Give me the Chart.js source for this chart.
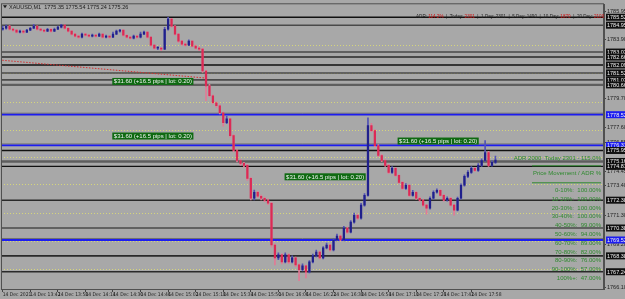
<!DOCTYPE html>
<html><head><meta charset="utf-8">
<script src="https://cdn.jsdelivr.net/npm/chart.js@4.4.1/dist/chart.umd.min.js"></script>
<style>html,body{margin:0;padding:0;background:#a8a8a8;}canvas{display:block}</style>
</head><body>
<canvas id="c" width="625" height="299"></canvas>
<script>
// ---------- DATA ----------
const timeTickLabels = ["14 Dec 2021","14 Dec 13:42","14 Dec 13:58","14 Dec 14:14","14 Dec 14:30","14 Dec 14:46","14 Dec 15:02","14 Dec 15:18","14 Dec 15:34","14 Dec 15:50","14 Dec 16:06","14 Dec 16:22","14 Dec 16:38","14 Dec 16:54","14 Dec 17:10","14 Dec 17:26","14 Dec 17:42","14 Dec 17:58"];
const opens = [1784.66,1784.73,1784.88,1784.66,1784.59,1784.45,1784.52,1784.45,1784.59,1784.73,1784.88,1784.66,1784.59,1784.52,1784.66,1784.52,1784.66,1784.81,1784.95,1784.73,1784.52,1784.31,1784.16,1784.09,1784.31,1784.23,1784.16,1784.23,1784.16,1784.31,1784.09,1784.16,1784.09,1784.31,1784.52,1784.59,1784.23,1784.09,1784.02,1784.16,1784.09,1784.31,1784.45,1784.09,1783.52,1783.30,1783.30,1783.23,1784.66,1785.38,1784.88,1784.31,1783.80,1783.59,1783.52,1783.80,1783.45,1783.30,1783.23,1781.66,1780.59,1779.88,1779.38,1779.16,1778.66,1777.95,1778.23,1777.02,1775.95,1775.23,1775.02,1774.88,1773.95,1772.52,1772.95,1772.66,1772.52,1772.38,1772.16,1769.16,1768.23,1768.45,1767.95,1768.45,1767.95,1768.23,1767.73,1767.38,1767.66,1767.23,1767.95,1768.38,1768.66,1768.23,1768.95,1769.16,1768.80,1769.52,1769.80,1769.52,1770.38,1770.09,1770.80,1771.30,1771.09,1772.02,1772.73,1777.73,1777.38,1776.30,1775.59,1775.23,1774.88,1774.38,1774.66,1774.16,1773.66,1773.23,1773.45,1772.73,1772.95,1772.52,1772.38,1772.02,1771.80,1772.52,1772.95,1773.09,1772.73,1772.38,1772.52,1772.02,1771.66,1772.52,1773.45,1774.09,1774.38,1774.66,1774.52,1774.88,1775.23,1775.80,1774.88,1775.09];
const closes = [1784.73,1784.88,1784.66,1784.59,1784.45,1784.52,1784.45,1784.59,1784.73,1784.88,1784.66,1784.59,1784.52,1784.66,1784.52,1784.66,1784.81,1784.95,1784.73,1784.52,1784.31,1784.16,1784.09,1784.31,1784.23,1784.16,1784.23,1784.16,1784.31,1784.09,1784.16,1784.09,1784.31,1784.52,1784.59,1784.23,1784.09,1784.02,1784.16,1784.09,1784.31,1784.45,1784.09,1783.52,1783.30,1783.30,1783.23,1784.66,1785.38,1784.88,1784.31,1783.80,1783.59,1783.52,1783.80,1783.45,1783.30,1783.23,1781.66,1780.59,1779.88,1779.38,1779.16,1778.66,1777.95,1778.23,1777.02,1775.95,1775.23,1775.02,1774.88,1773.95,1772.52,1772.95,1772.66,1772.52,1772.38,1772.16,1769.16,1768.23,1768.45,1767.95,1768.45,1767.95,1768.23,1767.73,1767.38,1767.66,1767.23,1767.95,1768.38,1768.66,1768.23,1768.95,1769.16,1768.80,1769.52,1769.80,1769.52,1770.38,1770.09,1770.80,1771.30,1771.09,1772.02,1772.73,1777.73,1777.38,1776.30,1775.59,1775.23,1774.88,1774.38,1774.66,1774.16,1773.66,1773.23,1773.45,1772.73,1772.95,1772.52,1772.38,1772.02,1771.80,1772.52,1772.95,1773.09,1772.73,1772.38,1772.52,1772.02,1771.66,1772.52,1773.45,1774.09,1774.38,1774.66,1774.52,1774.88,1775.23,1775.80,1774.88,1775.09,1775.26];
const highs = [1784.88,1784.95,1784.92,1784.73,1784.64,1784.60,1784.58,1784.66,1784.80,1785.02,1784.90,1784.72,1784.64,1784.73,1784.70,1784.74,1784.88,1785.02,1784.98,1784.78,1784.56,1784.36,1784.22,1784.38,1784.36,1784.30,1784.31,1784.28,1784.38,1784.34,1784.24,1784.20,1784.45,1784.60,1784.66,1784.62,1784.28,1784.14,1784.24,1784.20,1784.45,1784.52,1784.48,1784.12,1783.56,1783.40,1783.36,1784.80,1785.52,1785.45,1784.92,1784.35,1783.86,1783.66,1783.90,1783.84,1783.52,1783.40,1783.28,1781.70,1780.70,1779.95,1779.45,1779.22,1778.70,1778.40,1778.28,1777.10,1776.02,1775.30,1775.10,1774.95,1774.00,1773.10,1773.02,1772.75,1772.60,1772.45,1772.22,1769.25,1768.60,1768.52,1768.60,1768.52,1768.38,1768.30,1767.80,1767.80,1767.72,1768.05,1768.50,1768.80,1768.72,1769.05,1769.30,1769.22,1769.62,1769.95,1769.88,1770.50,1770.45,1770.92,1771.45,1771.38,1772.15,1772.85,1778.30,1777.90,1777.45,1776.38,1775.66,1775.30,1774.95,1774.80,1774.72,1774.22,1773.72,1773.58,1773.52,1773.08,1773.00,1772.60,1772.44,1772.08,1772.62,1773.05,1773.20,1773.15,1772.80,1772.62,1772.58,1772.08,1772.60,1773.55,1774.20,1774.50,1774.80,1774.72,1775.00,1775.35,1776.66,1775.88,1775.20,1775.54];
const lows = [1784.59,1784.66,1784.59,1784.50,1784.38,1784.40,1784.36,1784.42,1784.55,1784.70,1784.60,1784.52,1784.45,1784.48,1784.45,1784.48,1784.62,1784.76,1784.66,1784.45,1784.24,1784.09,1784.00,1784.04,1784.16,1784.08,1784.10,1784.09,1784.12,1784.02,1784.03,1784.00,1784.05,1784.26,1784.45,1784.16,1784.02,1783.95,1783.97,1784.02,1784.04,1784.26,1784.02,1783.45,1783.23,1783.20,1783.12,1783.20,1784.60,1784.80,1784.24,1783.72,1783.50,1783.44,1783.48,1783.38,1783.22,1783.12,1781.55,1779.52,1779.80,1779.30,1779.05,1778.58,1777.70,1777.88,1776.90,1775.85,1775.12,1774.90,1774.75,1773.80,1772.40,1772.40,1772.58,1772.40,1772.28,1772.05,1769.00,1767.73,1768.10,1767.80,1767.88,1767.82,1767.88,1767.60,1766.59,1767.30,1766.80,1767.16,1767.88,1768.30,1768.15,1768.16,1768.88,1768.72,1768.74,1769.45,1769.45,1769.46,1770.00,1770.02,1770.72,1771.00,1771.02,1771.95,1772.66,1777.30,1776.20,1775.50,1775.15,1774.80,1774.28,1774.30,1774.08,1773.58,1773.15,1773.16,1772.65,1772.66,1772.44,1772.30,1771.94,1771.38,1771.74,1772.45,1772.88,1772.66,1772.30,1772.30,1771.95,1771.30,1771.60,1772.45,1773.38,1774.00,1774.30,1774.44,1774.45,1774.80,1775.16,1774.80,1774.82,1775.02];
const priceTicks = [1785.95,1783.90,1779.70,1777.60,1776.55,1774.45,1773.40,1771.30,1769.20,1766.10];
const gridPrices = [1785.52,1783.52,1781.52,1779.45,1777.45,1775.45,1773.52,1771.45,1769.45,1767.45];
const levelPrices = [1785.52,1784.95,1783.02,1782.66,1782.09,1781.52,1781.02,1780.66,1778.52,1776.31,1775.95,1775.16,1774.81,1772.38,1770.38,1769.52,1768.38,1767.24];
const levelKinds  = ['k','g','g','d','k','g','g','m','b','b','k','m','k','d','g','b','d','d'];
const trendLine = {fromIndex:-1, fromPrice:1782.45, toIndex:58.5, toPrice:1781.16};
const profitText = "$31.60 (+16.5 pips | lot: 0.20)";
const profitBoxes = [{index:31.8, price:1781.16},{index:31.8, price:1777.24},{index:81.8, price:1774.31},{index:114.6, price:1776.88}];
const titleText = "XAUUSD,M1  1775.35 1775.54 1775.24 1775.26";
const adrTop = [["ADR: ","#222"],["114.2%","#d01010"],["  |  Today: ","#222"],["2301","#d01010"],["  |  1 Day: 2301  |  5 Day: 1490  |  10 Day: ","#222"],["1870","#d01010"],["  |  20 Day: ","#222"],["2100","#d01010"]];
const adrHeader = "ADR 2000  Today 2301 - 115.0%";
const adrSub = "Price Movement / ADR %";
const adrRows = ["0-10%:  100.00%","10-20%:  100.00%","20-30%:  100.00%","30-40%:  100.00%","40-50%:  99.00%","50-60%:  94.00%","60-70%:  89.00%","70-80%:  82.00%","80-90%:  76.00%","90-100%:  57.00%","100%+:  47.00%"];
const totalSlots = 175;

// ---------- BUILD ----------
const slotLabels = Array.from({length: totalSlots}, (_, i) => (i % 8 === 0 && timeTickLabels[i/8]) ? timeTickLabels[i/8] : '');
const bodies = opens.map((o, i) => [o, closes[i]]);
const wicks = lows.map((l, i) => [l, highs[i]]);
const isBull = opens.map((o, i) => closes[i] >= o);
const BULL = '#20208c', BEAR = '#dc2a55', BULLW = '#5252b4', BEARW = '#e27a95';
const kindStyle = {k:['#111',1.3],g:['#4a4a4a',1.6],d:['#2a2a2a',1.6],m:['#5e5e5e',2.4],b:['#1c1cf0',1.8]};
const FONT = '"Liberation Sans", Arial, sans-serif';
const NARROW = '"Liberation Sans Narrow", "DejaVu Sans Condensed", "Liberation Sans", sans-serif';

const overlay = {
  id: 'overlay',
  beforeDatasetsDraw(chart) {
    const {ctx, chartArea: a, scales: {x, y}} = chart;
    ctx.save();
    ctx.beginPath(); ctx.rect(a.left, a.top, a.right - a.left, a.bottom - a.top); ctx.clip();
    ctx.lineWidth = 1; ctx.strokeStyle = '#d6d67a'; ctx.setLineDash([1, 2]);
    gridPrices.forEach(p => { const yy = Math.round(y.getPixelForValue(p)) + 0.5; ctx.beginPath(); ctx.moveTo(a.left, yy); ctx.lineTo(a.right, yy); ctx.stroke(); });
    ctx.setLineDash([]);
    levelPrices.forEach((p, i) => {
      const [col, w] = kindStyle[levelKinds[i]];
      const yy = y.getPixelForValue(p);
      if (levelKinds[i] === 'b') { ctx.strokeStyle = '#707070'; ctx.lineWidth = 1; ctx.beginPath(); ctx.moveTo(a.left, yy - 1.5); ctx.lineTo(a.right, yy - 1.5); ctx.stroke(); }
      ctx.strokeStyle = col; ctx.lineWidth = w;
      ctx.beginPath(); ctx.moveTo(a.left, yy); ctx.lineTo(a.right, yy); ctx.stroke();
    });
    ctx.strokeStyle = '#d23030'; ctx.lineWidth = 1; ctx.setLineDash([1.5, 1.5]);
    ctx.beginPath();
    ctx.moveTo(x.getPixelForValue(trendLine.fromIndex), y.getPixelForValue(trendLine.fromPrice));
    ctx.lineTo(x.getPixelForValue(trendLine.toIndex), y.getPixelForValue(trendLine.toPrice));
    ctx.stroke();
    ctx.setLineDash([]);
    ctx.restore();
  },
  afterDraw(chart) {
    const {ctx, chartArea: a, scales: {x, y}} = chart;
    ctx.save();
    ctx.strokeStyle = '#505050'; ctx.lineWidth = 1;
    ctx.strokeRect(a.left + 0.5, a.top - 0.5, a.right - a.left - 1, a.bottom - a.top + 1);
    ctx.font = '6px ' + FONT; ctx.textBaseline = 'middle'; ctx.textAlign = 'left';
    profitBoxes.forEach(b => {
      const px = x.getPixelForValue(b.index), py = y.getPixelForValue(b.price);
      const w = ctx.measureText(profitText).width + 3;
      ctx.fillStyle = '#0f6a12'; ctx.fillRect(px, py, w, 7);
      ctx.fillStyle = '#f4f4f4'; ctx.fillText(profitText, px + 1.5, py + 3.8);
    });
    ctx.font = '5.5px ' + FONT;
    levelPrices.forEach((p, i) => {
      const yy = y.getPixelForValue(p);
      ctx.fillStyle = levelKinds[i] === 'b' ? '#1c1cf0' : '#101010';
      ctx.fillRect(a.right + 2, yy - 3.5, 19, 7);
      ctx.fillStyle = '#f0f0f0'; ctx.textAlign = 'left';
      ctx.fillText(p.toFixed(2), a.right + 3, yy + 0.3);
    });
    ctx.fillStyle = '#1a1a1a'; ctx.font = '5.5px ' + FONT; ctx.textAlign = 'left';
    ctx.beginPath(); ctx.moveTo(a.left + 2, a.top + 1); ctx.lineTo(a.left + 6, a.top + 1); ctx.lineTo(a.left + 4, a.top + 4); ctx.closePath(); ctx.fill();
    ctx.fillText(titleText, a.left + 8, a.top + 3);
    ctx.font = '4.6px ' + FONT;
    let tx = a.left + 415; const ty = y.getPixelForValue(levelPrices[0]) - 0.3;
    adrTop.forEach(([t, c]) => { ctx.fillStyle = c; ctx.fillText(t, tx, ty); tx += ctx.measureText(t).width; });
    const green = '#2f8a2f';
    const rx = a.right - 3;
    ctx.fillStyle = green; ctx.textAlign = 'right'; ctx.font = '6px ' + FONT;
    ctx.fillText(adrHeader, rx, a.top + 154);
    ctx.fillText(adrSub, rx, a.top + 169);
    ctx.strokeStyle = green; ctx.lineWidth = 1;
    [161.5, 178.5].forEach(v => { ctx.beginPath(); ctx.moveTo(a.left + 531, a.top + v); ctx.lineTo(rx, a.top + v); ctx.stroke(); });
    adrRows.forEach((r, i) => ctx.fillText(r, rx, a.top + 186 + i * 8.8));
    ctx.restore();
  }
};

new Chart(document.getElementById('c'), {
  type: 'bar',
  data: {
    labels: slotLabels,
    datasets: [
      { data: bodies, grouped: false, barThickness: 1.6, minBarLength: 1,
        backgroundColor: isBull.map(b => b ? BULL : BEAR), borderWidth: 0 },
      { data: wicks, grouped: false, barThickness: 1,
        backgroundColor: isBull.map(b => b ? BULLW : BEARW), borderWidth: 0 }
    ]
  },
  options: {
    responsive: false, animation: false, devicePixelRatio: 1,
    layout: { padding: { left: 1, top: 3, right: 0, bottom: 0 } },
    plugins: { legend: { display: false }, tooltip: { enabled: false } },
    scales: {
      x: {
        position: 'bottom', offset: true,
        grid: { drawOnChartArea: false, offset: false, tickLength: 3,
                color: c => (c.index % 8 === 0 && slotLabels[c.index]) ? '#444' : 'rgba(0,0,0,0)' },
        border: { display: true, color: '#505050' },
        ticks: { autoSkip: false, maxRotation: 0, align: 'start', padding: 0,
                 font: { size: 5, family: NARROW }, color: '#1e1e1e',
                 callback: (v, i) => slotLabels[i] },
        afterFit: s => { s.height = 10; }
      },
      y: {
        position: 'right', min: 1766.0, max: 1786.45,
        afterBuildTicks: s => { s.ticks = priceTicks.map(v => ({ value: v })); },
        grid: { drawOnChartArea: false, tickLength: 2, color: '#444' },
        border: { display: true, color: '#505050' },
        ticks: { padding: 1, font: { size: 5.5, family: FONT }, color: '#1e1e1e',
                 callback: v => Number(v).toFixed(2) },
        afterFit: s => { s.width = 21; }
      }
    }
  },
  plugins: [overlay]
});
</script>
</body></html>
